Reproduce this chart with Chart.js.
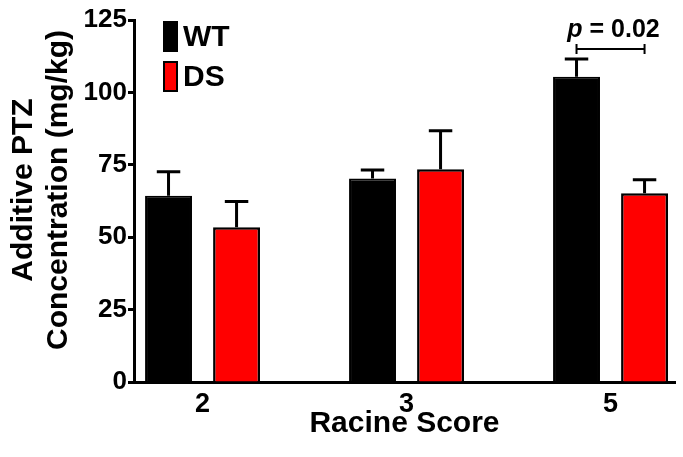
<!DOCTYPE html>
<html>
<head>
<meta charset="utf-8">
<script src="https://cdn.jsdelivr.net/npm/chart.js@4/dist/chart.umd.min.js"></script>
<style>
  body { margin: 0; background: #fff; }
  canvas { display: block; }
</style>
</head>
<body>
<canvas id="chart" width="683" height="457"></canvas>
<script>
// Data
const scores = ['2', '3', '5'];
const seriesNames = ['WT', 'DS'];
const wtMeans = [64.3, 70.3, 105.4];
const wtErrors = [8.3, 2.9, 6.1];
const dsMeans = [53.4, 73.5, 65.2];
const dsErrors = [8.9, 13.3, 4.6];
const yTicks = [0, 25, 50, 75, 100, 125];
const pText = '0.02';
const bracketValue = 115;

const FONT = '"Liberation Sans", Arial, sans-serif';

// Error bars (upper only)
const errorBars = {
  id: 'errorBars',
  afterDatasetsDraw(chart) {
    const ctx = chart.ctx;
    const y = chart.scales.y;
    chart.data.datasets.forEach((ds, di) => {
      const meta = chart.getDatasetMeta(di);
      meta.data.forEach((bar, i) => {
        const top = y.getPixelForValue(ds.data[i].y + ds.errors[i]);
        const half = bar.width * 0.25;
        ctx.save();
        ctx.strokeStyle = '#000';
        ctx.lineWidth = 3;
        ctx.beginPath();
        ctx.moveTo(bar.x, bar.y);
        ctx.lineTo(bar.x, top);
        ctx.moveTo(bar.x - half, top);
        ctx.lineTo(bar.x + half, top);
        ctx.stroke();
        ctx.restore();
      });
    });
  }
};

// Legend, y title and p-value bracket
const extras = {
  id: 'extras',
  afterDraw(chart) {
    const ctx = chart.ctx;
    ctx.save();
    ctx.fillStyle = '#000';

    // y axis title, two lines
    ctx.font = 'bold 30px ' + FONT;
    ctx.textAlign = 'center';
    ctx.textBaseline = 'alphabetic';
    const yTitle = ['Additive PTZ', 'Concentration (mg/kg)'];
    [32, 67].forEach((bx, k) => {
      ctx.save();
      ctx.translate(bx, 190);
      ctx.rotate(-Math.PI / 2);
      ctx.fillText(yTitle[k], 0, 0);
      ctx.restore();
    });

    // legend
    chart.data.datasets.forEach((ds, di) => {
      const top = 21 + di * 40;
      ctx.fillStyle = ds.backgroundColor;
      ctx.fillRect(163, top, 15, 31);
      ctx.strokeStyle = '#000';
      ctx.lineWidth = 2;
      ctx.strokeRect(164, top + 1, 13, 29);
      ctx.fillStyle = '#000';
      ctx.font = 'bold 30px ' + FONT;
      ctx.textAlign = 'left';
      ctx.textBaseline = 'middle';
      ctx.fillText(ds.label, 183, top + 17);
    });

    // significance bracket between WT and DS at score 5
    const last = scores.length - 1;
    const x1 = chart.getDatasetMeta(0).data[last].x;
    const x2 = chart.getDatasetMeta(1).data[last].x;
    const by = chart.scales.y.getPixelForValue(bracketValue);
    ctx.strokeStyle = '#000';
    ctx.lineWidth = 2;
    ctx.beginPath();
    ctx.moveTo(x1, by); ctx.lineTo(x2, by);
    ctx.moveTo(x1, by - 5); ctx.lineTo(x1, by + 5);
    ctx.moveTo(x2, by - 5); ctx.lineTo(x2, by + 5);
    ctx.stroke();

    const pFont = 'italic bold 25px ' + FONT;
    const restFont = 'bold 25px ' + FONT;
    const rest = ' = ' + pText;
    ctx.font = pFont;
    const wp = ctx.measureText('p').width;
    ctx.font = restFont;
    const wr = ctx.measureText(rest).width;
    const startX = (x1 + x2) / 2 + 3 - (wp + wr) / 2;
    ctx.textAlign = 'left';
    ctx.textBaseline = 'alphabetic';
    ctx.font = pFont;
    ctx.fillText('p', startX, by - 12);
    ctx.font = restFont;
    ctx.fillText(rest, startX + wp, by - 12);
    ctx.restore();
  }
};

new Chart(document.getElementById('chart'), {
  type: 'bar',
  data: {
    datasets: [
      {
        label: seriesNames[0],
        data: wtMeans.map((v, i) => ({ x: i, y: v })),
        errors: wtErrors,
        backgroundColor: '#000000',
        borderColor: '#000000',
        borderWidth: 2
      },
      {
        label: seriesNames[1],
        data: dsMeans.map((v, i) => ({ x: i, y: v })),
        errors: dsErrors,
        backgroundColor: '#ff0000',
        borderColor: '#000000',
        borderWidth: 2.5
      }
    ]
  },
  options: {
    responsive: false,
    animation: false,
    categoryPercentage: 0.667,
    barPercentage: 0.69,
    layout: { padding: { top: 20, right: 8, left: 0, bottom: 0 } },
    plugins: {
      legend: { display: false },
      tooltip: { enabled: false }
    },
    scales: {
      x: {
        type: 'linear',
        offset: false,
        bounds: 'data',
        min: -0.336,
        max: 2.316,
        afterBuildTicks: (scale) => {
          scale.ticks = scores.map((s, i) => ({ value: i }));
        },
        afterFit: (scale) => { scale.height = 75; },
        grid: { display: false, drawTicks: false, offset: false },
        border: { display: true, color: '#000', width: 3 },
        ticks: {
          color: '#000',
          padding: 6,
          font: { family: FONT, size: 27, weight: 'bold' },
          callback: (v) => scores[v]
        },
        title: {
          display: true,
          text: 'Racine Score',
          color: '#000',
          font: { family: FONT, size: 30, weight: 'bold' },
          padding: { top: 0, bottom: 15 }
        }
      },
      y: {
        min: 0,
        max: 125,
        afterBuildTicks: (scale) => {
          scale.ticks = yTicks.map(v => ({ value: v }));
        },
        afterFit: (scale) => { scale.width = 134; },
        grid: {
          drawOnChartArea: false,
          drawTicks: true,
          tickLength: 6,
          tickWidth: 3,
          tickColor: '#000'
        },
        border: { display: true, color: '#000', width: 3 },
        ticks: {
          color: '#000',
          padding: 1,
          font: { family: FONT, size: 26, weight: 'bold' }
        }
      }
    }
  },
  plugins: [errorBars, extras]
});
</script>
</body>
</html>
